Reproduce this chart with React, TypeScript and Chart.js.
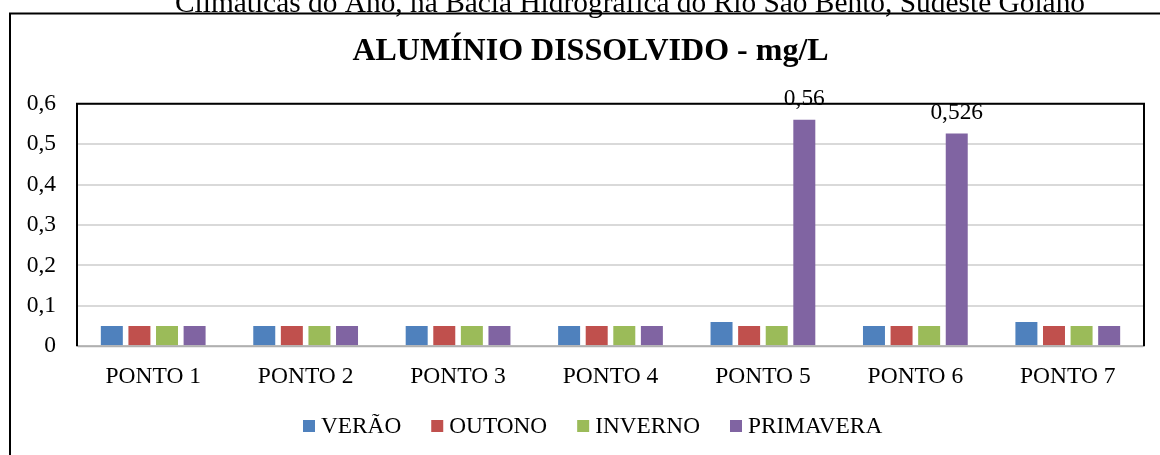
import React, { useEffect, useRef } from "react";
import { Chart, registerables } from "chart.js";

Chart.register(...registerables);

const categories = ["PONTO 1", "PONTO 2", "PONTO 3", "PONTO 4", "PONTO 5", "PONTO 6", "PONTO 7"];
const verao = [0.05, 0.05, 0.05, 0.05, 0.06, 0.05, 0.06];
const outono = [0.05, 0.05, 0.05, 0.05, 0.05, 0.05, 0.05];
const inverno = [0.05, 0.05, 0.05, 0.05, 0.05, 0.05, 0.05];
const primavera = [0.05, 0.05, 0.05, 0.05, 0.56, 0.526, 0.05];
const seriesNames = ["VERÃO", "OUTONO", "INVERNO", "PRIMAVERA"];
const seriesColors = ["#4F81BD", "#C0504D", "#9BBB59", "#8064A2"];
const yTicks = [0, 0.1, 0.2, 0.3, 0.4, 0.5, 0.6];
const chartTitle = "ALUMÍNIO DISSOLVIDO - mg/L";
const headerText = "Climáticas do Ano, na Bacia Hidrográfica do Rio São Bento, Sudeste Goiano";

const FONT = "'Liberation Serif', 'Times New Roman', serif";
const fmt = (v: number) => (v === 0 ? "0" : String(Math.round(v * 1000) / 1000).replace(".", ","));

const decorPlugin = {
  id: "decor",
  beforeDraw(chart: any) {
    const ctx = chart.ctx;
    ctx.save();
    // cut header text from the document
    ctx.fillStyle = "#000";
    ctx.font = `29.4px ${FONT}`;
    ctx.textAlign = "center";
    ctx.textBaseline = "alphabetic";
    ctx.fillText(headerText, 630, 12);
    // outer frame
    ctx.strokeStyle = "#000";
    ctx.lineWidth = 2;
    ctx.beginPath();
    ctx.moveTo(10, chart.height + 2);
    ctx.lineTo(10, 13.5);
    ctx.lineTo(chart.width + 2, 13.5);
    ctx.stroke();
    ctx.restore();
  },
  afterDraw(chart: any) {
    const ctx = chart.ctx;
    const a = chart.chartArea;
    ctx.save();
    // plot area frame
    ctx.strokeStyle = "#000";
    ctx.lineWidth = 2;
    ctx.beginPath();
    ctx.moveTo(a.left, a.bottom);
    ctx.lineTo(a.left, a.top);
    ctx.lineTo(a.right, a.top);
    ctx.lineTo(a.right, a.bottom);
    ctx.stroke();
    // category axis line
    ctx.strokeStyle = "#b0b0b0";
    ctx.beginPath();
    ctx.moveTo(a.left + 1, a.bottom);
    ctx.lineTo(a.right - 1, a.bottom);
    ctx.stroke();

    // data labels on the large values
    ctx.fillStyle = "#000";
    ctx.font = `23.4px ${FONT}`;
    ctx.textAlign = "center";
    ctx.textBaseline = "alphabetic";
    chart.data.datasets.forEach((ds: any, di: number) => {
      const meta = chart.getDatasetMeta(di);
      ds.data.forEach((v: number, i: number) => {
        if (v > 0.1) {
          const el = meta.data[i];
          ctx.fillText(fmt(v), el.x, el.y - 15);
        }
      });
    });

    // legend
    ctx.font = `23.3px ${FONT}`;
    ctx.textAlign = "left";
    const box = 12;
    const gapText = 6;
    const gapItem = 30;
    let x = 303;
    const cy = 426;
    seriesNames.forEach((n, i) => {
      ctx.fillStyle = seriesColors[i];
      ctx.fillRect(x, cy - box / 2, box, box);
      ctx.fillStyle = "#000";
      ctx.fillText(n, x + box + gapText, 433.3);
      x += box + gapText + ctx.measureText(n).width + gapItem;
    });
    ctx.restore();
  },
};

export default function App() {
  const ref = useRef<HTMLCanvasElement>(null);
  useEffect(() => {
    if (!ref.current) return;
    const series = [verao, outono, inverno, primavera];
    const chart = new Chart(ref.current, {
      type: "bar",
      data: {
        labels: categories,
        datasets: series.map((d, i) => ({
          label: seriesNames[i],
          data: d,
          backgroundColor: seriesColors[i],
          borderWidth: 0,
          categoryPercentage: 0.724,
          barPercentage: 0.797,
          yAxisID: "y",
        })),
      },
      options: {
        responsive: false,
        animation: false,
        devicePixelRatio: 1,
        layout: { padding: { left: 21, right: 0, top: 0, bottom: 48.5 } },
        plugins: {
          legend: { display: false },
          tooltip: { enabled: false },
          title: {
            display: true,
            text: chartTitle,
            color: "#000",
            font: { family: FONT, size: 32, weight: "bold" },
            padding: { top: 33, bottom: 32.3 },
          },
        },
        scales: {
          x: {
            grid: { display: false, drawTicks: false },
            border: { display: false },
            ticks: { color: "#000", font: { family: FONT, size: 23.5 }, padding: 16, maxRotation: 0, autoSkip: false },
          },
          y: {
            min: 0,
            max: 0.6,
            afterBuildTicks: (s: any) => {
              s.ticks = yTicks.map((v) => ({ value: v }));
            },
            afterFit: (s: any) => {
              s.width = 56;
            },
            grid: { color: "#d9d9d9", lineWidth: 2, drawTicks: false },
            border: { display: false },
            ticks: {
              color: "#000",
              font: { family: FONT, size: 23.5 },
              padding: 21,
              callback: (v: any) => fmt(Number(v)),
            },
          },
          y2: {
            position: "right",
            min: 0,
            max: 0.6,
            afterFit: (s: any) => {
              s.width = 16;
            },
            grid: { display: false, drawTicks: false },
            border: { display: false },
            ticks: { display: false },
          },
        },
      },
      plugins: [decorPlugin],
    } as any);
    return () => chart.destroy();
  }, []);
  return (
    <div style={{ position: "absolute", left: 0, top: 0, width: 1160, height: 455, background: "#fff" }}>
      <canvas ref={ref} width={1160} height={455} style={{ display: "block" }} />
    </div>
  );
}
